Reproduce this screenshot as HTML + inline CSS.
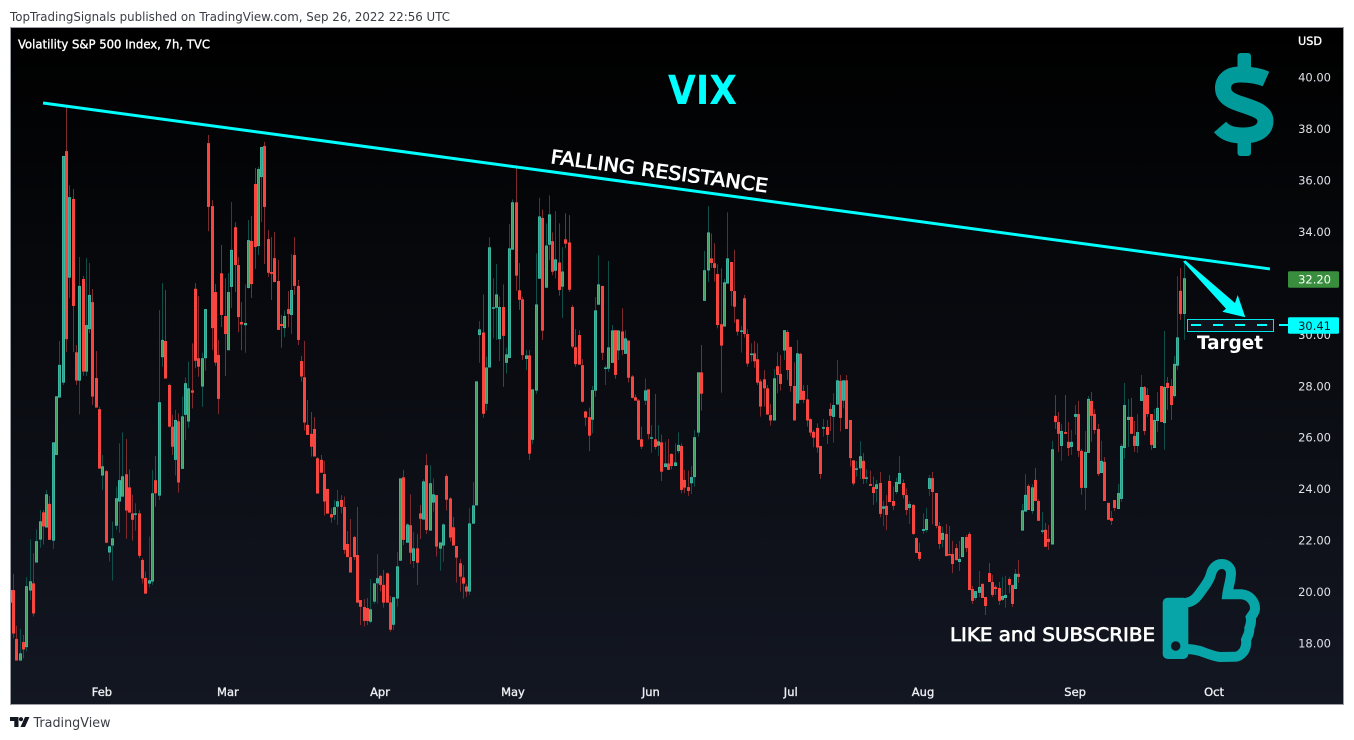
<!DOCTYPE html>
<html lang="en">
<head>
<meta charset="utf-8">
<title>VIX chart</title>
<style>
html,body{margin:0;padding:0;background:#fff;width:1354px;height:740px;overflow:hidden}
svg{display:block}
text{font-family:"DejaVu Sans","Liberation Sans",sans-serif}
</style>
</head>
<body>
<svg id="chart" xmlns="http://www.w3.org/2000/svg" width="1354" height="740" viewBox="0 0 1354 740">
<defs>
<linearGradient id="bg" x1="0" y1="0" x2="0" y2="1"><stop offset="0" stop-color="#000000"/><stop offset="1" stop-color="#131722"/></linearGradient>
<clipPath id="plotClip"><rect x="11" y="28" width="1332" height="676"/></clipPath>
</defs>
<text x="10" y="21" font-size="12" fill="#3a3d45" textLength="440" lengthAdjust="spacingAndGlyphs">TopTradingSignals published on TradingView.com, Sep 26, 2022 22:56 UTC</text>
<rect x="10.5" y="27.5" width="1333" height="677" fill="url(#bg)" stroke="#9a9da6" stroke-width="1"/>
<g id="candles" clip-path="url(#plotClip)"></g>
<g id="priceAxis"></g>
<g id="timeAxis"></g>
<text x="1298" y="45" font-size="11.5" fill="#fff" stroke="#fff" stroke-width=".35" textLength="24" lengthAdjust="spacingAndGlyphs">USD</text>
<text x="18" y="48.5" font-size="12" fill="#fff" stroke="#fff" stroke-width=".35" textLength="192" lengthAdjust="spacingAndGlyphs">Volatility S&amp;P 500 Index, 7h, TVC</text>
<text x="668" y="104" font-size="40" font-weight="bold" fill="#00ffff" textLength="69" lengthAdjust="spacingAndGlyphs">VIX</text>
<line id="trend" stroke="#00ffff" stroke-width="3"/>
<text transform="translate(550 163) rotate(7.7)" font-size="19" fill="#fff" stroke="#fff" stroke-width=".7" textLength="219" lengthAdjust="spacingAndGlyphs">FALLING RESISTANCE</text>
<g>
<rect x="1237.5" y="53" width="13.5" height="22" rx="3" fill="#009a9a"/>
<rect x="1237.5" y="134" width="13.5" height="22" rx="3" fill="#009a9a"/>
<path d="M1266 79 C1257 75 1248 74.500 1240 74.500 C1228 74.500 1223 81 1223 88 C1223 100 1238 103 1245 105.500 C1255 109 1265.500 112 1265.500 121 C1265.500 133 1252 135.500 1243 135.500 C1234 135.500 1226 134 1220 127" fill="none" stroke="#009a9a" stroke-width="16"/>
</g>
<polygon points="1183,261.500 1185.500,260.500 1235,303 1237.700,295 1245.300,317.300 1222.300,311.700 1226,308.800" fill="#00ffff"/>
<rect x="1187.500" y="319.500" width="86" height="12" fill="#131722" fill-opacity=".75" stroke="#00e5e5" stroke-width="1"/>
<line id="targetLine" x1="1191" x2="1288" stroke="#00ffff" stroke-width="2" stroke-dasharray="10 12"/>
<text x="1197" y="349" font-size="19" font-weight="bold" fill="#fff" textLength="66" lengthAdjust="spacingAndGlyphs">Target</text>
<text x="950" y="641" font-size="19" fill="#fff" stroke="#fff" stroke-width=".7" textLength="205" lengthAdjust="spacingAndGlyphs">LIKE and SUBSCRIBE</text>
<g>
<rect x="1162.700" y="597.700" width="25.600" height="61.300" rx="5" fill="#07a4a8"/>
<circle cx="1175.700" cy="646" r="4.700" fill="#131722"/>
<path d="M1186 602.700 C1195 602 1199 594 1203.300 588.300 C1208 582 1210 578 1211 574 C1212 569 1216 564 1221.700 564 C1227 564 1231 568 1231 573 C1231 580 1228 588 1227.300 594.300 L1241.700 594.300 C1250 595 1255 602 1255 608.300 C1255 613 1252 615 1250.700 617.300 C1252 622 1250 626 1249.300 628.300 C1250 633 1247 637 1246 640 C1247 645 1245 649 1244 651 C1241 655 1238 656.700 1235 656.700 L1220 657 C1212 656 1206 653 1200 651 C1196 650 1192 649 1186 649" fill="none" stroke="#07a4a8" stroke-width="10"/>
</g>
<rect id="lastLabel" x="1288" width="51" height="16.500" rx="1.500" fill="#388e3c"/>
<text id="lastText" x="1331" font-size="11.500" fill="#fff" text-anchor="end">32.20</text>
<rect id="targetLabel" x="1288" width="51" height="16.500" rx="1.500" fill="#00ffff"/>
<text id="targetText" x="1331" font-size="11.500" fill="#131722" text-anchor="end">30.41</text>
<g>
<path d="M10 717 H18.500 V727 H14.300 V721 H10 Z" fill="#131722"/>
<circle cx="21" cy="719.200" r="2.100" fill="#131722"/>
<path d="M25 717 H29.500 L25 727 H20.500 Z" fill="#131722"/>
<text x="33.500" y="727" font-size="13.500" fill="#3a3d45" textLength="77" lengthAdjust="spacingAndGlyphs">TradingView</text>
</g>
<script>
const opens=[19.59,20.08,18.18,17.34,18.06,17.86,20.06,20.34,21.15,22.04,
23.10,22.51,23.43,22.00,25.33,27.56,28.14,37.14,32.22,35.28,
29.32,28.22,32.17,28.57,30.22,31.27,28.32,27.11,24.53,24.70,
21.54,21.81,22.58,23.52,23.71,24.58,24.07,23.06,23.03,23.06,
21.25,20.55,20.33,20.41,24.35,23.75,29.13,29.76,28.05,26.43,
25.14,26.64,24.79,26.89,26.63,27.84,31.79,29.09,27.99,29.09,
37.45,35.0,31.66,29.22,32.39,30.73,29.4,31.86,34.18,32.71,
30.5,30.37,31.82,33.65,35.86,33.45,36.13,37.34,33.72,32.44,
32.98,32.09,30.42,30.26,31.0,30.77,33.1,31.9,28.98,28.35,
26.5,26.15,26.34,25.2,25.14,24.59,24.01,23.03,23.0,23.32,
23.58,23.31,21.87,21.36,22.14,21.44,19.69,19.42,19.38,18.85,
19.63,20.34,20.63,20.28,20.73,19.6,18.73,19.75,21.22,24.46,
21.92,22.6,21.21,21.7,23.06,22.82,24.93,22.39,23.48,23.77,
21.69,21.81,24.51,23.64,22.52,21.79,21.12,20.57,20.22,20.02,
22.66,23.37,29.99,30.09,27.32,28.73,31.05,31.05,29.83,31.08,
28.91,29.1,33.31,35.15,31.73,31.38,29.06,29.2,25.92,27.83,
32.18,34.54,31.83,33.5,33.64,32.49,32.81,31.87,33.71,33.59,
31.08,29.52,29.99,28.82,27.02,26.8,26.7,27.83,31.17,31.9,
28.71,28.68,28.91,30.18,29.39,30.13,29.26,29.78,28.38,27.57,
27.45,25.94,27.44,27.88,26.0,25.94,25.69,25.82,24.86,25.0,
25.37,24.9,25.48,25.68,24.36,24.08,24.23,24.47,26.2,28.54,
31.32,32.5,32.97,32.78,32.36,30.41,30.32,31.99,32.83,31.7,
30.6,30.16,31.42,30.03,29.26,29.28,29.05,28.19,28.27,27.92,
26.88,26.67,28.78,28.48,29.39,30.11,29.53,28.01,27.33,29.26,
27.82,27.49,26.72,26.23,26.38,25.68,26.39,26.42,27.12,26.81,
27.29,28.21,27.44,28.23,26.69,25.12,24.8,24.81,25.1,24.44,
24.2,24.08,24.01,24.24,23.24,23.35,24.32,23.54,23.89,24.2,
24.24,23.77,23.27,23.39,22.1,21.56,22.38,22.41,24.01,24.43,
23.85,22.57,22.03,22.26,21.48,21.48,21.71,21.17,21.36,22.14,
22.26,20.12,19.77,19.97,20.32,19.81,20.74,20.39,20.2,20.16,
19.7,19.77,20.51,20.28,20.12,20.71,22.39,23.13,24.13,23.15,
24.36,23.54,22.38,22.42,22.07,21.85,26.85,26.61,25.68,26.22,
25.84,25.64,26.81,26.92,25.49,24.05,25.41,27.43,26.92,26.34,
24.63,25.06,23.47,22.88,23.58,23.23,23.62,25.6,26.69,26.81,
26.07,25.68,27.43,27.97,27.66,26.92,25.6,26.65,28.01,26.57,
28.13,28.01,27.62,28.8,31.71,30.81];
const closes=[20.08,18.39,17.34,17.62,17.77,20.23,20.42,19.17,21.98,22.75,
22.55,23.80,22.03,25.82,27.61,28.83,36.95,29.83,35.35,31.12,
28.22,31.9,28.57,30.38,31.55,27.6,27.17,24.8,24.89,21.92,
21.78,22.09,23.65,24.35,24.50,23.17,23.09,22.81,23.06,21.41,
20.53,19.94,20.46,23.84,23.84,27.38,29.8,28.30,26.43,25.65,
26.69,24.26,26.83,28.12,27.92,27.75,28.99,28.76,29.09,31.0,
34.97,30.26,28.92,27.51,30.77,30.03,31.66,33.3,32.71,30.69,
30.4,30.46,33.68,31.97,33.41,36.44,37.3,34.97,32.41,32.37,
32.05,30.19,30.34,30.73,30.81,31.74,31.9,29.8,28.38,26.59,
26.11,25.65,25.27,23.83,24.64,23.52,23.05,22.9,23.3,23.53,
23.31,21.64,21.36,20.76,21.36,19.59,19.43,18.88,18.88,19.33,
20.34,20.54,20.28,19.59,19.59,18.54,19.8,21.0,24.42,22.03,
22.63,21.53,21.7,21.14,22.85,24.3,22.41,24.23,23.8,21.77,
21.93,22.63,23.59,22.12,21.81,21.34,20.6,20.33,20.02,22.67,
23.37,28.19,30.21,26.93,28.73,33.4,31.07,31.57,31.08,29.96,
29.24,33.36,35.15,32.3,31.36,29.21,29.2,25.38,27.88,31.18,
34.6,30.16,33.47,34.68,32.45,32.93,31.74,32.46,33.54,31.75,
29.54,28.86,28.84,27.4,26.78,26.08,27.85,30.95,31.96,29.3,
28.73,29.51,30.17,28.44,30.17,29.41,29.86,28.33,27.55,27.44,
25.92,25.65,27.84,26.14,26.02,25.64,25.86,24.68,25.0,24.75,
24.9,25.04,25.72,23.97,24.06,23.93,24.47,26.02,28.54,27.71,
32.51,33.98,32.79,32.6,30.38,29.58,32.04,32.97,31.7,31.09,
30.12,30.17,30.03,28.88,29.27,28.97,28.14,27.21,27.92,26.9,
26.67,28.31,28.44,28.09,30.18,28.63,28.01,26.67,29.28,27.47,
27.47,26.67,26.2,26.0,25.62,24.59,26.41,26.11,26.85,27.27,
28.23,26.77,28.23,26.34,25.21,24.22,24.81,25.28,24.4,24.46,
24.13,23.85,24.19,23.04,23.33,23.0,23.5,23.35,24.28,24.63,
23.77,23.19,23.42,22.26,21.52,21.29,22.45,22.84,24.43,23.89,
22.57,21.87,22.3,21.4,21.44,21.09,21.24,21.29,22.14,21.71,
20.08,19.66,20.04,20.2,19.77,19.46,20.39,19.89,20.12,19.66,
19.85,19.89,20.28,19.54,20.71,20.59,23.18,23.78,23.19,24.07,
23.54,22.77,22.4,21.76,21.95,25.55,26.61,26.15,26.26,26.15,
25.6,25.84,26.92,25.49,24.05,25.45,27.51,26.85,26.3,24.59,
25.1,23.54,22.81,22.77,23.27,23.85,25.68,27.27,26.81,26.15,
25.68,26.22,27.97,26.26,26.92,25.72,26.69,27.16,26.61,27.97,
27.93,27.27,28.87,29.9,30.81,32.2];
const highs=[20.99,20.71,18.69,18.57,18.34,20.58,22.05,21.51,22.44,23.19,
23.19,23.97,23.74,25.82,27.61,29.76,36.95,38.90,35.82,35.67,
29.6,33.02,32.29,32.98,32.79,31.78,29.37,27.2,25.33,24.75,
21.8,22.74,24.10,25.78,26.21,25.95,24.77,23.78,23.45,23.19,
21.32,20.8,22.16,24.75,25.29,30.96,32.01,31.74,28.1,26.89,
27.08,26.95,27.6,28.34,28.96,29.67,32.01,31.5,29.3,31.0,
37.77,35.23,31.97,29.8,33.49,32.2,32.4,35.16,34.38,33.02,
31.27,31.96,34.46,34.62,36.48,36.52,37.3,37.5,34.07,33.8,
33.99,32.91,30.77,30.95,31.7,33.14,33.8,32.13,29.18,29.76,
27.47,27.0,26.8,25.25,25.33,25.1,24.01,23.26,23.58,23.97,
23.77,23.71,22.37,22.84,22.19,23.31,19.69,19.73,19.77,20.51,
20.34,21.47,20.67,20.86,20.76,19.85,19.82,21.56,24.42,24.75,
22.67,23.8,22.34,22.26,23.39,24.38,25.37,24.93,24.42,23.77,
21.93,22.67,24.59,23.68,22.92,21.79,21.29,21.05,20.32,23.26,
24.28,28.19,30.53,31.57,29.15,33.78,32.19,32.75,31.48,31.96,
29.5,34.3,35.26,36.6,32.79,31.48,29.41,29.41,27.88,33.16,
35.33,34.87,34.33,35.42,33.98,34.81,34.33,33.4,34.72,34.65,
31.16,30.22,30.18,29.06,27.05,27.17,28.01,31.47,33.09,31.9,
28.81,32.87,30.38,30.18,30.17,31.03,30.18,29.78,28.43,27.68,
27.5,26.43,28.3,27.88,26.49,27.7,26.49,26.12,25.85,25.95,
25.39,25.78,26.21,25.78,24.75,24.72,24.9,26.3,28.54,29.6,
33.26,35.0,33.94,33.56,32.74,32.58,32.17,34.76,32.83,33.3,
30.6,30.34,31.55,30.21,29.67,29.76,29.67,28.28,28.63,28.05,
27.31,28.67,29.32,29.22,30.18,30.19,29.53,28.93,29.8,29.3,
28.05,28.05,26.76,26.3,26.56,25.68,26.73,26.69,27.34,27.73,
29.02,28.44,28.23,28.44,26.69,25.12,25.1,25.86,25.4,24.77,
24.72,24.49,24.36,24.67,23.55,23.77,24.55,24.1,24.45,25.29,
24.38,24.03,23.54,23.42,22.13,21.92,23.06,23.26,24.55,24.67,
23.85,22.72,22.54,22.65,22.57,21.99,21.87,21.99,22.14,22.22,
22.34,20.24,20.04,20.82,20.34,19.81,21.13,20.67,20.28,20.39,
20.59,20.63,20.59,20.28,20.9,21.25,23.43,24.59,24.2,24.19,
24.83,23.61,23.12,22.69,22.61,25.88,27.66,27.0,26.54,27.66,
26.61,26.3,27.27,27.43,25.56,26.26,27.62,27.78,27.12,26.54,
25.88,25.25,23.47,23.15,23.58,24.2,25.76,28.13,27.51,27.55,
26.65,26.92,28.44,28.01,27.93,26.92,27.12,27.78,28.01,30.15,
28.36,28.28,29.18,32.28,32.6,32.84];
const lows=[19.59,18.21,17.34,17.34,17.43,17.69,19.70,19.05,21.15,21.72,
21.85,22.51,22.03,21.68,25.33,27.56,28.05,29.33,31.43,29.33,
28.05,26.91,28.41,28.4,30.07,27.27,27.17,24.8,23.97,21.9,
21.19,20.45,22.42,22.31,23.71,22.07,23.09,22.0,22.39,21.32,
20.34,19.94,20.19,20.28,23.32,23.58,28.76,28.3,26.4,25.33,
24.53,23.87,24.79,25.91,26.37,27.14,28.7,28.37,27.2,28.6,
34.03,29.41,28.8,26.92,30.3,28.4,29.4,31.04,31.66,30.1,
29.4,29.3,31.8,31.43,32.56,33.1,34.38,32.75,32.25,31.35,
32.05,30.19,29.5,29.9,30.3,30.03,31.55,29.6,28.18,26.28,
26.11,25.27,25.27,23.83,24.64,22.97,23.05,22.7,22.8,22.61,
23.06,21.48,21.36,20.76,21.25,19.59,18.72,18.66,18.72,18.79,
19.54,19.56,20.02,19.4,19.59,18.46,18.53,19.43,21.22,21.83,
21.92,21.09,20.94,20.28,22.06,22.82,22.26,22.39,23.13,21.38,
20.83,21.18,23.17,21.96,21.81,20.37,20.02,19.75,19.82,19.89,
22.66,23.37,28.91,26.78,27.05,28.73,29.86,29.8,28.98,27.98,
28.5,29.1,33.3,31.71,30.97,29.02,28.63,25.13,25.75,27.7,
32.18,29.8,31.83,32.9,32.32,32.19,31.52,30.66,33.36,31.67,
29.47,28.76,28.84,27.36,26.45,25.48,26.17,27.59,31.17,29.02,
28.05,28.56,28.91,28.29,29.02,29.21,29.26,28.14,27.53,27.44,
25.92,25.56,27.27,25.94,25.42,25.55,25.3,24.32,24.85,24.75,
24.77,24.9,25.39,23.84,23.84,23.74,23.81,24.1,26.04,27.05,
31.32,32.05,32.6,32.07,30.25,27.75,30.32,31.99,31.12,30.47,
29.97,29.31,29.89,28.76,28.96,28.72,28.05,26.82,27.21,26.9,
26.47,26.67,27.73,27.83,29.02,28.25,27.79,26.67,27.33,27.47,
27.34,26.43,26.07,25.63,25.42,24.4,26.04,25.76,26.26,25.81,
27.29,26.24,27.14,26.34,24.88,24.14,24.49,24.39,24.2,24.23,
24.13,23.39,23.49,22.91,22.57,22.41,23.5,23.19,23.81,24.2,
23.64,22.99,22.65,22.22,21.52,21.21,22.26,22.32,23.74,22.63,
22.48,21.68,21.74,21.4,21.44,20.74,21.24,20.82,21.36,21.56,
20.08,19.54,19.69,19.8,19.77,19.11,20.39,19.81,19.89,19.5,
19.66,19.39,19.97,19.42,20.12,20.36,22.39,23.13,23.19,23.04,
23.54,22.77,22.26,21.76,21.64,21.85,26.34,25.45,25.1,26.15,
25.29,25.33,26.11,25.25,23.78,23.19,25.41,25.84,26.15,24.51,
24.63,23.54,22.81,22.61,23.15,23.23,23.5,25.18,25.64,26.15,
25.45,25.41,27.43,26.11,26.81,25.53,25.6,26.22,26.61,25.53,
27.08,26.69,27.55,28.63,30.57,29.8];
const priceTicks=[40,38,36,34,32,30,28,26,24,22,20,18];
const monthLabels=["Feb","Mar","Apr","May","Jun","Jul","Aug","Sep","Oct"];
const monthBars=[27.7,65.8,111.8,152,193.7,236,276,322,364];
const trendBars=[9.9,380.9];
const trendPrices=[39.01,32.56];
const lastPrice=32.20;
const targetPrice=30.41;

const NS="http://www.w3.org/2000/svg";
function xOf(bar){return 10.3+bar*3.307;}
function yOf(price){return 77.5+(40-price)*25.73;}
function node(tag,parent){const n=document.createElementNS(NS,tag);parent.appendChild(n);return n;}

const candleGroup=document.getElementById("candles");
opens.forEach(function(open,i){
  const close=closes[i];
  const up=close>=open;
  const left=Math.round(xOf(i)-1.5);
  const wick=node("rect",candleGroup);
  
  
  wick.setAttribute("x",left+1);
  wick.setAttribute("width",1);
  wick.setAttribute("y",yOf(highs[i]));
  wick.setAttribute("height",Math.max(1,yOf(lows[i])-yOf(highs[i])));
  wick.setAttribute("fill",up?"#0f4f4a":"#7d2b2f");
  const top=yOf(Math.max(open,close));
  const h=Math.max(1.5,Math.abs(yOf(open)-yOf(close)));
  const body=node("rect",candleGroup);
  
  
  if(up){
    body.setAttribute("x",left+0.5);
    body.setAttribute("width",2);
    body.setAttribute("y",top+0.5);
    body.setAttribute("height",Math.max(0.5,h-1));
    body.setAttribute("fill","#3f9e62");
    body.setAttribute("stroke","#3cb5a0");
    body.setAttribute("stroke-width",1);
  }else{
    body.setAttribute("x",left);
    body.setAttribute("width",3);
    body.setAttribute("y",top);
    body.setAttribute("height",h);
    body.setAttribute("fill","#f6463f");
  }
});

const priceGroup=document.getElementById("priceAxis");
priceTicks.forEach(function(p){
  const t=node("text",priceGroup);
  
  
  t.setAttribute("x",1331);
  t.setAttribute("y",yOf(p)+4);
  t.setAttribute("font-size",11.5);
  t.setAttribute("fill","#dfe1e8");
  t.setAttribute("text-anchor","end");
  t.textContent=p.toFixed(2);
});

const timeGroup=document.getElementById("timeAxis");
monthLabels.forEach(function(m,i){
  const t=node("text",timeGroup);
  
  
  t.setAttribute("x",xOf(monthBars[i]));
  t.setAttribute("y",696);
  t.setAttribute("font-size",11.5);
  t.setAttribute("fill","#eceef2");
  t.setAttribute("stroke","#eceef2");
  t.setAttribute("stroke-width",".35");
  t.setAttribute("text-anchor","middle");
  t.textContent=m;
});

const trend=document.getElementById("trend");
trend.setAttribute("x1",xOf(trendBars[0]));
trend.setAttribute("y1",yOf(trendPrices[0]));
trend.setAttribute("x2",xOf(trendBars[1]));
trend.setAttribute("y2",yOf(trendPrices[1]));

const targetLine=document.getElementById("targetLine");
targetLine.setAttribute("y1",yOf(targetPrice)+0.8);
targetLine.setAttribute("y2",yOf(targetPrice)+0.8);
document.getElementById("lastLabel").setAttribute("y",yOf(lastPrice)-7);
document.getElementById("lastText").setAttribute("y",yOf(lastPrice)+5.5);
document.getElementById("lastText").textContent=lastPrice.toFixed(2);
document.getElementById("targetLabel").setAttribute("y",yOf(targetPrice)-7);
document.getElementById("targetText").setAttribute("y",yOf(targetPrice)+5.5);
document.getElementById("targetText").textContent=targetPrice.toFixed(2);
</script>
</svg>
</body>
</html>
